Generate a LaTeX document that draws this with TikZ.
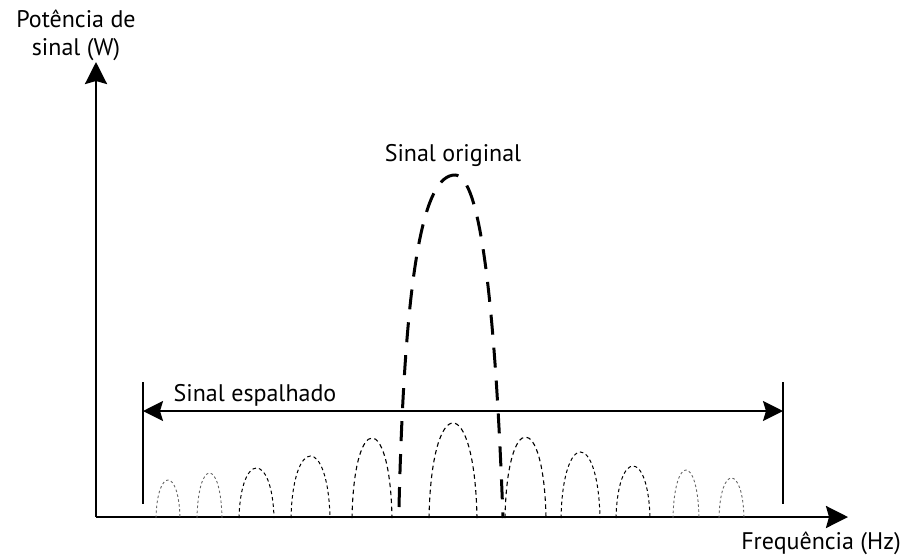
\documentclass[tikz,border=0pt]{standalone}
\usepackage{fontspec}
\setmainfont{PT Sans}
\usepackage{tikz}
\usetikzlibrary{arrows.meta}

\tikzset{
  axis/.style={line width=2.6pt,-{Stealth[length=22pt,width=22pt,inset=3pt]}},
  spread/.style={line width=2pt,{Stealth[length=20pt,width=20pt,inset=3pt]}-{Stealth[length=20pt,width=20pt,inset=3pt]}},
  bar/.style={line width=2pt},
  lbl/.style={font=\fontsize{24}{28}\selectfont,inner sep=0pt},
  original/.style={line width=3pt,dash pattern=on 20pt off 13pt},
  lobefine/.style={line width=0.9pt,gray!80!black,dash pattern=on 2.5pt off 2.5pt},
  lobemid/.style={line width=1pt,dash pattern=on 3.5pt off 3pt},
  lobebig/.style={line width=1.1pt,dash pattern=on 4.5pt off 3.5pt},
}

\begin{document}
\begin{tikzpicture}[x=1pt,y=-1pt]

\useasboundingbox (0,0) rectangle (907,558);

% axes
\coordinate (origin) at (96,517);
\coordinate (ytip) at (96,62);
\coordinate (xtip) at (848,517);
\draw[axis] (origin) -- (ytip);
\draw[axis] (origin) -- (xtip);

\node[lbl,align=center,anchor=north] (ylabel) at (76,10) {Potência de\\sinal (W)};
\node[lbl,anchor=base] (xlabel) at (821,549) {Frequência (Hz)};

% band limits and spread arrow
\coordinate (ltop) at (143,382);
\coordinate (lbot) at (143,504);
\coordinate (rtop) at (783,382);
\coordinate (rbot) at (783,504);
\draw[bar] (ltop) -- (lbot);
\draw[bar] (rtop) -- (rbot);

\coordinate (spreadL) at (143,411);
\coordinate (spreadR) at (783,411);
\draw[spread] (spreadR) -- (spreadL);

\node[lbl,anchor=base] (spreadlbl) at (255,401) {Sinal espalhado};

% original narrow band signal
\coordinate (origL) at (399,507);
\coordinate (origtop) at (455,175);
\coordinate (origR) at (503,518);
\draw[original] (origL) .. controls (405,260) and (425,175) .. (origtop)
  .. controls (480,175) and (495,300) .. (origR);

\node[lbl,anchor=base] (origlbl) at (453,161) {Sinal original};

% spread lobes: left foot / right foot / top / style
\foreach \l/\r/\t/\s in {156/180/480/lobefine, 197/222/473/lobefine,
    239/274/468/lobemid, 291/330/456/lobemid, 352/392/438/lobebig,
    429/477/423/lobebig, 505/546/437/lobebig, 561/600/452/lobemid,
    616/650/466/lobemid, 673/699/470/lobefine, 719/744/478/lobefine}
  \draw[\s] (\l,518) .. controls (\l+0.05*\r-0.05*\l,{518-(518-\t)*4/3})
    and (\r-0.05*\r+0.05*\l,{518-(518-\t)*4/3}) .. (\r,518);

\end{tikzpicture}
\end{document}
